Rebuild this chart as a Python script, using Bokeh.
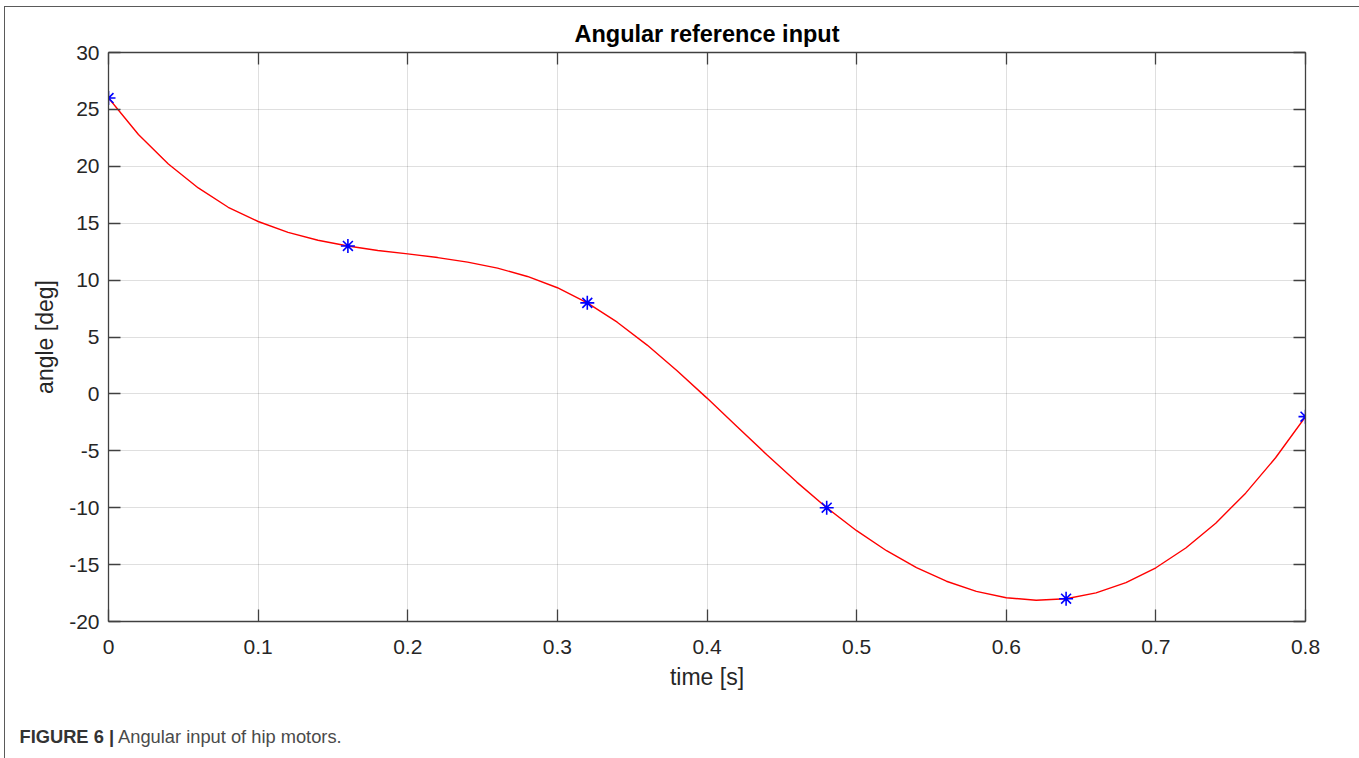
from bokeh.plotting import figure
from bokeh.layouts import column
from bokeh.models import (Range1d, FixedTicker, LinearAxis, Div, CustomLabelingPolicy)
from bokeh.embed import file_html
from bokeh.resources import INLINE

# ---- data ----
knot_t = [0.0, 0.16, 0.32, 0.48, 0.64, 0.8]
knot_angle = [26, 13, 8, -10, -18, -2]

curve_t = [0.00, 0.02, 0.04, 0.06, 0.08, 0.10, 0.12, 0.14, 0.16, 0.18,
           0.20, 0.22, 0.24, 0.26, 0.28, 0.30, 0.32, 0.34, 0.36, 0.38,
           0.40, 0.42, 0.44, 0.46, 0.48, 0.50, 0.52, 0.54, 0.56, 0.58,
           0.60, 0.62, 0.64, 0.66, 0.68, 0.70, 0.72, 0.74, 0.76, 0.78, 0.80]
curve_angle = [26.0, 22.8, 20.2, 18.1, 16.4, 15.15, 14.2, 13.5, 13.0, 12.6,
               12.3, 11.98, 11.58, 11.05, 10.32, 9.33, 8.0, 6.3, 4.29, 2.03,
               -0.37, -2.86, -5.35, -7.75, -10.0, -12.02, -13.78, -15.26, -16.46, -17.35,
               -17.91, -18.13, -18.0, -17.49, -16.59, -15.28, -13.54, -11.36, -8.72, -5.61, -2.0]

x_ticks = [0, 0.1, 0.2, 0.3, 0.4, 0.5, 0.6, 0.7, 0.8]
x_tick_labels = ["0", "0.1", "0.2", "0.3", "0.4", "0.5", "0.6", "0.7", "0.8"]
y_ticks = [-20, -15, -10, -5, 0, 5, 10, 15, 20, 25, 30]
y_tick_labels = ["-20", "-15", "-10", "-5", "0", "5", "10", "15", "20", "25", "30"]

title_text = "Angular reference input"
x_label = "time [s]"
y_label = "angle [deg]"
caption_bold = "FIGURE 6 |"
caption_text = "Angular input of hip motors."

FONT = "Liberation Sans"
AX = "#262626"
AXL = "#404040"

p = figure(width=1347, height=700, output_backend="svg", toolbar_location=None,
           x_range=Range1d(0, 0.8), y_range=Range1d(-20, 30),
           min_border_left=103, min_border_right=47, min_border_top=45, min_border_bottom=86)
p.background_fill_color = "white"
p.border_fill_color = "white"
p.outline_line_color = None

# main axes
xa = p.xaxis[0]
xa.ticker = FixedTicker(ticks=x_ticks)
xa.major_label_overrides = dict(zip(x_ticks, x_tick_labels))
ya = p.yaxis[0]
ya.ticker = FixedTicker(ticks=y_ticks)
ya.major_label_overrides = dict(zip(y_ticks, y_tick_labels))

for ax in (xa, ya):
    ax.major_tick_in = 12
    ax.major_tick_out = 0
    ax.minor_tick_line_color = None
    ax.axis_line_color = AXL
    ax.axis_line_width = 1.3
    ax.major_tick_line_color = AXL
    ax.major_tick_line_width = 1.3
    ax.major_label_text_font = FONT
    ax.major_label_text_font_size = "21px"
    ax.major_label_text_color = AX
    ax.axis_label_text_font = FONT
    ax.axis_label_text_font_size = "23px"
    ax.axis_label_text_font_style = "normal"
    ax.axis_label_text_color = AX

xa.axis_label = x_label
xa.major_label_standoff = 18
xa.axis_label_standoff = 7
ya.axis_label = y_label
ya.major_label_standoff = 9
ya.axis_label_standoff = 8

# box axes (top / right): inward ticks, no tick labels
def hide_labels():
    return CustomLabelingPolicy(
        code="for (let i = 0; i < indices.size; i++) { indices.unset(i) } return indices")

top = LinearAxis(ticker=FixedTicker(ticks=x_ticks), major_label_policy=hide_labels(),
                 major_label_text_font_size="0px",
                 major_label_standoff=0, major_tick_in=12, major_tick_out=0,
                 minor_tick_line_color=None, axis_line_color=AXL, axis_line_width=1.3,
                 major_tick_line_color=AXL, major_tick_line_width=1.3,
                 axis_label=title_text, axis_label_standoff=6,
                 axis_label_text_font=FONT, axis_label_text_font_size="23.5px",
                 axis_label_text_font_style="bold", axis_label_text_color="black")
right = LinearAxis(ticker=FixedTicker(ticks=y_ticks), major_label_policy=hide_labels(),
                   major_label_text_font_size="0px",
                   major_label_standoff=0, major_tick_in=12, major_tick_out=0,
                   minor_tick_line_color=None, axis_line_color=AXL, axis_line_width=1.3,
                   major_tick_line_color=AXL, major_tick_line_width=1.3)
p.add_layout(top, "above")
p.add_layout(right, "right")

# grid
p.xgrid.ticker = FixedTicker(ticks=x_ticks)
p.ygrid.ticker = FixedTicker(ticks=y_ticks)
for g in (p.xgrid, p.ygrid):
    g.grid_line_color = AX
    g.grid_line_alpha = 0.15
    g.grid_line_width = 1

# data
p.line(curve_t, curve_angle, line_color="#ff0000", line_width=1.4)
p.scatter(knot_t, knot_angle, marker="asterisk", size=14, line_color="#0000ff", line_width=1.6)

# caption (below the chart)
cap = Div(width=1347, height=50,
          text=('<div style="padding: 14px 0 0 9.5px; font-family: \'Liberation Sans\', sans-serif; '
                'font-size: 18.3px; line-height: normal; color: #4a4a4a; white-space: nowrap;">'
                '<b style="color: #333333;">' + caption_bold + '</b> ' + caption_text + '</div>'))

layout = column(p, cap, spacing=0,
                styles={"margin-left": "4px", "margin-top": "6px",
                        "border-top": "1.5px solid #5a5a5a",
                        "border-left": "1.5px solid #5a5a5a",
                        "border-right": "1.5px solid #5a5a5a",
                        "background-color": "white"})

open("out.html", "w").write(file_html(layout, INLINE))
